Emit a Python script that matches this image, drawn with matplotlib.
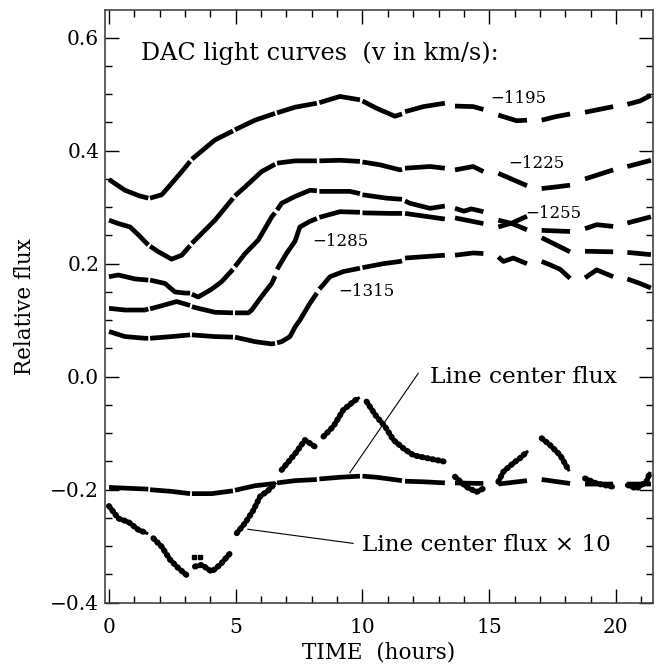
import numpy as np
import matplotlib
matplotlib.use("Agg")
import matplotlib.pyplot as plt
from matplotlib.ticker import MultipleLocator, FuncFormatter

plt.rcParams['font.family'] = ['DejaVu Serif']
plt.rcParams['axes.unicode_minus'] = True

# observation gaps (hours): series are broken across these
obs_gaps = [(1.55, 1.62), (3.2, 3.27), (4.89, 4.97), (6.55, 6.63), (8.2, 8.3),
            (9.9, 10.0), (11.56, 11.68), (13.25, 13.65), (14.77, 15.36),
            (16.49, 17.07), (18.19, 18.78), (19.89, 20.45)]

# DAC light curves, v = -1195 km/s
t_1195 = [0.0, 0.63, 1.2, 1.55, 1.62, 2.08, 2.47, 2.87, 3.2, 3.27, 4.18, 4.89, 4.97, 5.76, 6.55,
          6.63, 7.34, 8.2, 8.3, 9.11, 9.9, 10.0, 10.56, 11.28, 11.56, 11.68, 12.4, 13.25,
          13.65, 14.37, 14.77, 15.36, 16.08, 16.49, 17.07, 17.6, 18.19, 18.78, 19.89,
          20.45, 20.95, 21.38]
f_1195 = [0.349, 0.330, 0.320, 0.316, 0.316, 0.322, 0.342, 0.363, 0.381, 0.385, 0.419, 0.435,
          0.437, 0.454, 0.466, 0.467, 0.477, 0.484, 0.485, 0.496, 0.490, 0.488, 0.475, 0.461,
          0.465, 0.469, 0.478, 0.484, 0.479, 0.478, 0.473, 0.463, 0.453, 0.454, 0.454, 0.460,
          0.465, 0.468, 0.478, 0.482, 0.488, 0.498]

# v = -1225 km/s
t_1225 = [0.0, 0.37, 0.83, 1.16, 1.55, 1.62, 1.95, 2.47, 2.87, 3.2, 3.27, 4.18, 4.84, 4.89,
          4.97, 5.37, 6.02, 6.55, 6.63, 7.34, 8.2, 8.3, 9.11, 9.9, 10.0, 10.69, 11.48, 11.56,
          11.68, 12.66, 13.25, 13.65, 14.37, 14.77, 15.36, 15.82, 16.49, 17.07, 17.66, 18.19,
          18.78, 19.89, 20.45, 21.38]
f_1225 = [0.277, 0.271, 0.265, 0.251, 0.233, 0.231, 0.221, 0.208, 0.215, 0.232, 0.236, 0.277,
          0.313, 0.316, 0.320, 0.336, 0.363, 0.376, 0.378, 0.382, 0.382, 0.382, 0.383, 0.381,
          0.380, 0.375, 0.366, 0.367, 0.369, 0.372, 0.369, 0.366, 0.372, 0.363, 0.360, 0.351,
          0.338, 0.333, 0.336, 0.339, 0.350, 0.366, 0.372, 0.383]

# v = -1255 km/s
t_1255 = [0.0, 0.37, 1.03, 1.55, 1.62, 2.21, 2.6, 3.0, 3.2, 3.27, 3.52, 4.05, 4.44, 4.89,
          4.97, 5.37, 5.89, 6.42, 6.55, 6.63, 6.81, 7.34, 7.93, 8.2, 8.3, 9.5, 9.9, 10.0,
          10.95, 11.56, 11.68, 11.87, 12.66, 13.25, 13.65, 14.0, 14.3, 14.77, 15.36, 15.9,
          16.49, 17.07, 18.19, 18.78, 19.24, 19.89, 20.45, 21.38]
f_1255 = [0.177, 0.180, 0.173, 0.171, 0.171, 0.165, 0.150, 0.148, 0.148, 0.146, 0.141, 0.155,
          0.168, 0.190, 0.195, 0.218, 0.242, 0.283, 0.290, 0.295, 0.307, 0.319, 0.330, 0.329,
          0.328, 0.328, 0.324, 0.322, 0.316, 0.314, 0.311, 0.307, 0.298, 0.302, 0.298, 0.293,
          0.297, 0.292, 0.277, 0.271, 0.260, 0.259, 0.257, 0.262, 0.269, 0.266, 0.272, 0.283]

# v = -1285 km/s
t_1285 = [0.0, 0.63, 1.42, 1.55, 1.62, 1.95, 2.67, 3.13, 3.2, 3.27, 3.52, 4.18, 4.89, 4.97,
          5.5, 5.63, 6.02, 6.42, 6.55, 6.63, 7.0, 7.34, 7.53, 7.93, 8.2, 8.3, 9.11, 9.9, 10.0,
          11.07, 11.56, 11.68, 13.25, 13.65, 14.77, 15.36, 15.9, 16.49, 17.07, 18.19, 18.78,
          19.89, 20.45, 21.38]
f_1285 = [0.121, 0.118, 0.118, 0.120, 0.120, 0.124, 0.133, 0.127, 0.126, 0.124, 0.121, 0.114,
          0.113, 0.113, 0.113, 0.118, 0.142, 0.165, 0.178, 0.190, 0.218, 0.240, 0.265, 0.275,
          0.280, 0.282, 0.292, 0.291, 0.290, 0.289, 0.289, 0.289, 0.279, 0.281, 0.271, 0.265,
          0.272, 0.284, 0.246, 0.221, 0.222, 0.221, 0.220, 0.216]

# v = -1315 km/s
t_1315 = [0.0, 0.63, 1.42, 1.55, 1.62, 2.47, 3.2, 3.27, 4.18, 4.89, 4.97, 5.76, 6.42, 6.55,
          6.63, 6.81, 7.14, 7.34, 7.53, 7.9, 8.2, 8.3, 8.72, 9.24, 9.9, 10.0, 10.82, 11.48,
          11.56, 11.68, 13.25, 13.65, 14.37, 14.77, 15.36, 15.56, 15.95, 16.49, 17.07, 17.4,
          17.8, 18.19, 18.78, 19.24, 19.89, 20.45, 20.95, 21.38]
f_1315 = [0.080, 0.071, 0.068, 0.068, 0.068, 0.071, 0.074, 0.074, 0.071, 0.070, 0.070, 0.062,
          0.058, 0.059, 0.060, 0.062, 0.071, 0.088, 0.100, 0.128, 0.148, 0.155, 0.177, 0.186,
          0.192, 0.193, 0.200, 0.204, 0.205, 0.210, 0.215, 0.215, 0.219, 0.218, 0.212, 0.204,
          0.210, 0.200, 0.204, 0.198, 0.190, 0.174, 0.175, 0.189, 0.177, 0.173, 0.165, 0.157]

# Line center flux
t_lc = [0.0, 1.55, 1.62, 2.47, 3.2, 3.27, 4.05, 4.89, 4.97, 5.76, 6.55, 6.63, 7.34, 8.2, 8.3,
        9.11, 9.9, 10.0, 10.56, 11.56, 11.68, 12.4, 13.25, 13.65, 14.77, 15.36, 16.49, 17.07,
        18.19, 18.78, 19.89, 20.45, 21.38]
f_lc = [-0.196, -0.199, -0.200, -0.203, -0.207, -0.207, -0.207, -0.202, -0.201, -0.193, -0.189,
        -0.188, -0.184, -0.182, -0.181, -0.178, -0.176, -0.176, -0.178, -0.184, -0.185, -0.186,
        -0.188, -0.188, -0.189, -0.190, -0.184, -0.182, -0.189, -0.190, -0.190, -0.190, -0.190]

# Line center flux x 10
t_lc10 = [0.0, 0.37, 0.76, 1.16, 1.49, 1.75, 2.08, 2.41, 2.74, 3.06, 3.39, 3.66, 4.05, 4.38,
          4.77, 5.04, 5.37, 5.7, 5.96, 6.29, 6.55, 6.81, 7.2, 7.4, 7.73, 8.13, 8.46, 8.85, 9.24,
          9.64, 9.84, 10.16, 10.56, 10.89, 11.22, 11.62, 12.01, 12.53, 13.2,
          13.65, 14.1, 14.5, 14.77, 15.36, 15.56, 15.95, 16.22, 16.49, 17.07, 17.4, 17.8, 18.13,
          18.78, 19.24, 19.89, 20.47, 20.8, 21.2, 21.33]
f_lc10 = [-0.229, -0.251, -0.257, -0.271, -0.277, -0.286, -0.301, -0.324, -0.339, -0.351,
          -0.336, -0.333, -0.345, -0.333, -0.313, -0.277, -0.259, -0.236, -0.212, -0.201,
          -0.189, -0.165, -0.144, -0.133, -0.112, -0.124, -0.106, -0.088, -0.059, -0.044,
          -0.038, -0.044, -0.071, -0.088, -0.112, -0.127, -0.139, -0.144, -0.150,
          -0.177, -0.195, -0.204, -0.198, -0.186, -0.168, -0.153, -0.144, -0.133, -0.109,
          -0.121, -0.139, -0.165, -0.180, -0.189, -0.195, -0.192, -0.198, -0.186, -0.171]
t_iso = [3.37, 3.59]
f_iso = [-0.319, -0.319]

labels_v = ['\u22121195', '\u22121225', '\u22121255', '\u22121285', '\u22121315']
label_pos = [(15.03, 0.493), (15.74, 0.377), (16.41, 0.288), (8.0, 0.240), (9.03, 0.151)]


def split(t, f):
    tt, ff = [], []
    for i in range(len(t)):
        if i > 0:
            for a, b in obs_gaps:
                if t[i - 1] <= a and t[i] >= b:
                    tt.append(np.nan)
                    ff.append(np.nan)
                    break
        tt.append(t[i])
        ff.append(f[i])
    return np.array(tt), np.array(ff)


fig = plt.figure(figsize=(6.59, 6.64), dpi=100)
ax = fig.add_axes([104.7 / 659, 1 - 602.7 / 664, 548 / 659, 592.7 / 664])

for t, f in [(t_1195, f_1195), (t_1225, f_1225), (t_1255, f_1255),
             (t_1285, f_1285), (t_1315, f_1315), (t_lc, f_lc)]:
    tt, ff = split(t, f)
    ax.plot(tt, ff, color='black', lw=3.4, solid_capstyle='butt', solid_joinstyle='round')

tt, ff = split(t_lc10, f_lc10)
ax.plot(tt, ff, color='black', lw=4.3, linestyle=(0, (0.2, 0.7)), dash_capstyle='round')
ax.plot(tt, ff, color='black', lw=2.2)
ax.plot(t_iso, f_iso, 's', color='black', ms=2.2)

ax.text(1.25, 0.573, 'DAC light curves  (v in km/s):', fontsize=17.2, va='center', ha='left')
for lab, (x, y) in zip(labels_v, label_pos):
    ax.text(x, y, lab, fontsize=12, va='center', ha='left')

ax.text(12.65, 0.0, 'Line center flux', fontsize=16.8, va='center', ha='left')
ax.plot([9.5, 12.2], [-0.17, 0.006], color='black', lw=0.8)
ax.text(10.0, -0.298, 'Line center flux \u00d7 10', fontsize=16.7, va='center', ha='left')
ax.plot([5.48, 9.63], [-0.270, -0.295], color='black', lw=0.8)

ax.set_xlim(-0.17, 21.45)
ax.set_ylim(-0.4, 0.649)
ax.xaxis.set_major_locator(MultipleLocator(5))
ax.xaxis.set_minor_locator(MultipleLocator(1))
ax.yaxis.set_major_locator(MultipleLocator(0.2))
ax.yaxis.set_minor_locator(MultipleLocator(0.05))
ax.yaxis.set_major_formatter(FuncFormatter(lambda v, p: ('%.1f' % v).replace('-', '\u2212')))
ax.tick_params(which='both', direction='in', top=True, right=True, width=1.0, labelsize=14.5)
ax.tick_params(which='major', length=10)
ax.tick_params(which='minor', length=5)
ax.tick_params(axis='y', pad=4)
ax.tick_params(axis='x', pad=11)
for s in ax.spines.values():
    s.set_linewidth(1.2)
    s.set_color('#444444')

ax.set_xlabel('TIME  (hours)', fontsize=15.5, labelpad=3)
ax.set_ylabel('Relative flux', fontsize=15.5, labelpad=10)

fig.savefig('out.png', dpi=100)
